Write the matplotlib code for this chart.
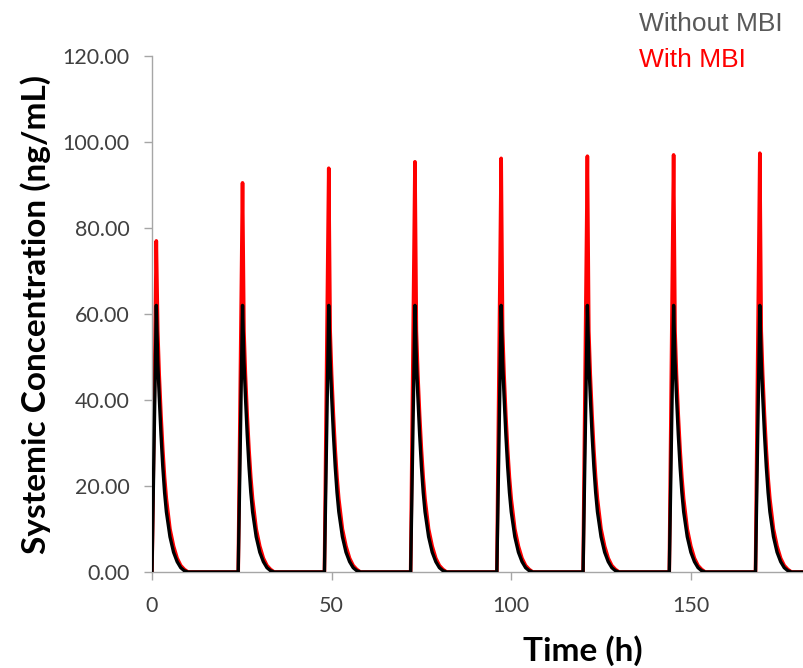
import matplotlib.pyplot as plt

# dosing schedule (h) and sampling times after each dose (h)
dose_times = [0, 24, 48, 72, 96, 120, 144, 168]
t_after = [0, 1.2, 1.6, 2.0, 2.5, 3.0, 3.5, 4.0, 5.0, 6.0, 7.0, 8.0, 9.0, 10.0]
sim_end = 182

# concentration (ng/mL) after a single dose, without MBI
conc_without = [0, 62, 49, 41, 32, 24.5, 18.5, 14, 8.2, 4.6, 2.4, 1.0, 0.3, 0]

# with MBI: peak rises dose by dose, tail after the peak
peaks_with = [77.0, 90.5, 93.9, 95.4, 96.2, 96.7, 97.0, 97.4]
tail_with = [56, 46, 36.5, 28.5, 22, 17, 10, 6, 3.2, 1.5, 0.6, 0]

y_ticks = [0, 20, 40, 60, 80, 100, 120]
x_ticks = [0, 50, 100, 150]


def build_series(profiles):
    t, c = [], []
    for d, prof in zip(dose_times, profiles):
        t += [d + s for s in t_after]
        c += list(prof)
    t.append(sim_end)
    c.append(0)
    return t, c


t_wo, c_wo = build_series([conc_without] * len(dose_times))
t_w, c_w = build_series([[0, p] + tail_with for p in peaks_with])

fig = plt.figure(figsize=(8.04, 6.68), dpi=100)
ax = fig.add_axes([152 / 804, 96 / 668, 652 / 804, 516 / 668])

ax.plot(t_w, c_w, color='#FF0000', lw=2.6, solid_joinstyle='round', zorder=2)
ax.plot(t_wo, c_wo, color='#000000', lw=2.4, solid_joinstyle='round', zorder=3)

ax.set_xlim(0, 181.5)
ax.set_ylim(0, 120)
ax.set_xticks(x_ticks)
ax.set_yticks(y_ticks)
ax.set_yticklabels([f'{v:.2f}' for v in y_ticks])

for side in ['top', 'right']:
    ax.spines[side].set_visible(False)
for side in ['left', 'bottom']:
    ax.spines[side].set_color('#A6A6A6')
    ax.spines[side].set_linewidth(1.0)

ax.tick_params(direction='out', length=6, width=1, color='#A6A6A6',
               labelcolor='#404040', labelsize=15.5)
ax.tick_params(axis='y', pad=10)
ax.tick_params(axis='x', pad=11)
for lab in ax.get_xticklabels() + ax.get_yticklabels():
    lab.set_family('Lato')

ax.set_xlabel('Time (h)', family='Lato', fontweight='bold', fontsize=24, color='#000000')
ax.xaxis.set_label_coords(0.6606, -0.122)
ax.set_ylabel('Systemic Concentration (ng/mL)', family='Lato', fontweight='bold',
              fontsize=24, color='#000000')
ax.yaxis.set_label_coords(-0.155, 0.5)

# legend as coloured text in the top right corner
fig.text(639 / 804, 1 - 31 / 668, 'Without MBI', color='#595959', fontsize=19,
         family='Liberation Sans', va='baseline')
fig.text(639 / 804, 1 - 67 / 668, 'With MBI', color='#FF0000', fontsize=19,
         family='Liberation Sans', va='baseline')

fig.savefig('out.png', dpi=100)
